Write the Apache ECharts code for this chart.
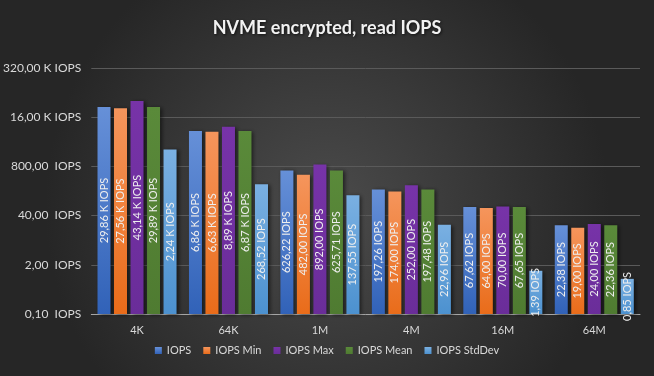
<!DOCTYPE html>
<html><head><meta charset="utf-8">
<script src="https://cdn.jsdelivr.net/npm/echarts@6/dist/echarts.min.js"></script>
<style>html,body{margin:0;padding:0;background:#333}#c{width:654px;height:376px}</style>
</head><body><div id="c"></div>
<script>
var categories = ['4K', '64K', '1M', '4M', '16M', '64M'];
var seriesNames = ['IOPS', 'IOPS Min', 'IOPS Max', 'IOPS Mean', 'IOPS StdDev'];
var iops = [29860, 6860, 626.22, 197.26, 67.62, 22.38];
var iopsMin = [27560, 6630, 482.00, 174.00, 64.00, 19.00];
var iopsMax = [43140, 8890, 892.00, 252.00, 70.00, 24.00];
var iopsMean = [29890, 6870, 625.71, 197.48, 67.65, 22.36];
var iopsStdDev = [2240, 268.52, 137.55, 22.96, 1.39, 0.85];
var yTicks = [0.1, 2, 40, 800, 16000, 320000];

var seriesData = [iops, iopsMin, iopsMax, iopsMean, iopsStdDev];
var gradients = [
  ['#6690d8', '#3162b8'],
  ['#f5955c', '#e96c1a'],
  ['#7733a8', '#6a2d99'],
  ['#5a8a3a', '#4f7b31'],
  ['#7ab0e2', '#4c91cf']
];
var font = 'Lato, "Open Sans", sans-serif';
function fmt(v, sep) {
  if (v >= 1000) return (v / 1000).toFixed(2).replace('.', ',') + ' K IOPS';
  return v.toFixed(2).replace('.', ',') + sep + 'IOPS';
}
var chart = echarts.init(document.getElementById('c'), null, {renderer: 'canvas'});
chart.setOption({
  animation: false,
  backgroundColor: {type: 'radial', x: 0.5, y: 0.55, r: 0.75, colorStops: [
    {offset: 0, color: '#4b4b4b'}, {offset: 1, color: '#262626'}]},
  title: {
    text: 'NVME encrypted, read IOPS', left: 'center', top: 14,
    textStyle: {color: '#f2f2f2', fontFamily: font, fontSize: 18, fontWeight: 'bold',
      textShadowColor: 'rgba(0,0,0,0.7)', textShadowBlur: 3, textShadowOffsetX: 1, textShadowOffsetY: 1}
  },
  legend: {
    bottom: 15, left: 'center', itemWidth: 7, itemHeight: 7, itemGap: 12,
    icon: 'rect',
    textStyle: {color: '#d9d9d9', fontFamily: font, fontSize: 11},
    data: seriesNames
  },
  grid: {left: 87, right: 14, top: 68, bottom: 62},
  xAxis: {
    type: 'category', data: categories,
    axisLine: {lineStyle: {color: '#a6a6a6', width: 1}},
    axisTick: {show: false},
    axisLabel: {color: '#d9d9d9', fontFamily: font, fontSize: 11, margin: 11}
  },
  yAxis: {
    type: 'log', logBase: 20, min: 0.1, max: 320000, startValue: 0.1,
    axisLine: {show: false}, axisTick: {show: false, customValues: yTicks},
    splitLine: {lineStyle: {color: '#5a5a5a', width: 1}},
    axisLabel: {customValues: yTicks, color: '#d9d9d9', fontFamily: font, fontSize: 12, margin: 10,
      formatter: function (v) { return fmt(v, '  '); }}
  },
  series: seriesNames.map(function (name, i) {
    return {
      name: name, type: 'bar', data: seriesData[i], barWidth: 13, barGap: '27%',
      itemStyle: {
        color: {type: 'linear', x: 0, y: 0, x2: 0, y2: 1, colorStops: [
          {offset: 0, color: gradients[i][0]}, {offset: 1, color: gradients[i][1]}]},
        shadowColor: 'rgba(0,0,0,0.55)', shadowBlur: 4, shadowOffsetX: 2, shadowOffsetY: 1
      },
      label: {
        show: true, position: 'inside', rotate: 90, color: '#eeeeee',
        fontFamily: font, fontSize: 11,
        formatter: function (p) { return fmt(p.value, ' '); }
      }
    };
  })
});
</script></body></html>
